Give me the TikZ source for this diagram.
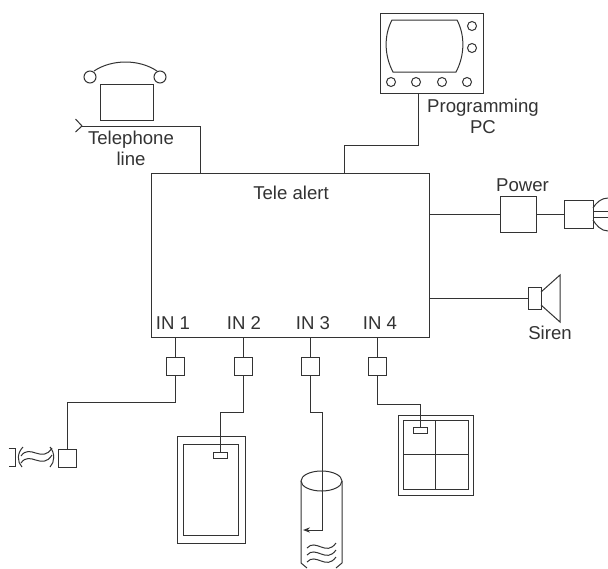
\documentclass[tikz,border=0pt]{standalone}
\usepackage{fontspec}
\setmainfont{Liberation Sans}
\usepackage{tikz}
\usetikzlibrary{arrows.meta, positioning, calc}

\begin{document}
\begin{tikzpicture}[x=1pt, y=-1pt,
  line width=1pt, draw=black!80,
  box/.style={rectangle, draw=black!80, fill=white, inner sep=0pt, outer sep=0pt},
  port/.style={box, minimum width=18pt, minimum height=18pt},
  lbl/.style={font=\fontsize{18.6pt}{21pt}\selectfont, text=black!80, align=center, inner sep=0pt},
  knob/.style={circle, draw=black!80, fill=white, inner sep=0pt, minimum size=9pt},
  wire/.style={draw=black!80},
]
\useasboundingbox (0,0) rectangle (608,568);
% main unit
\node[box, minimum width=278pt, minimum height=164pt] (tele) at (290,255) {};
\node[lbl] (telelbl) at (291,193) {Tele alert};
\node[lbl] (in1) at (173,323) {IN 1};
\node[lbl] (in2) at (244,323) {IN 2};
\node[lbl] (in3) at (313,323) {IN 3};
\node[lbl] (in4) at (380,323) {IN 4};
% telephone
\node[box, minimum width=53pt, minimum height=36pt] (phone) at (126.5,102) {};
\node[knob, minimum size=12pt] (earl) at (90,77) {};
\node[knob, minimum size=12pt] (earr) at (160,77) {};
\draw (94,71) .. controls (112,59) and (139,59) .. (157,71);
\coordinate (linein) at (82,126);
\coordinate (linedrop) at (200,173);
\draw (75.5,119) -- (linein) -- (75.5,132);
\draw[wire] (linein) -- (200,126) -- (linedrop);
\node[lbl] (phonelbl) at (131,148) {Telephone\\line};
% programming pc
\node[box, minimum width=103pt, minimum height=80pt] (pc) at (431.5,53) {};
\draw (392,20) .. controls (384,35) and (384,55) .. (393,72) -- (456,72)
  .. controls (465,55) and (465,35) .. (457,20) -- cycle;
\foreach \kx/\ky [count=\ki] in {472/26, 472/48, 391/82, 416/82, 442/82, 467/82}
  \node[knob] (pcknob\ki) at (\kx,\ky) {};
\node[lbl] (pclbl) at (483,116.5) {Programming\\PC};
\coordinate (pcdrop) at (344,173);
\draw[wire] (418,93) -- (418,145) -- (344,145) -- (pcdrop);
% power
\node[box, minimum width=36pt, minimum height=36pt] (power) at (518,214) {};
\node[lbl] (powerlbl) at (522.5,185) {Power};
\node[box, minimum width=29pt, minimum height=28pt] (plug) at (578.5,214) {};
\draw[wire] (tele.east |- power) -- (power);
\draw[wire] (power) -- (plug);
\draw (plug.east) ++(0,-6) .. controls (596,203) and (601,198) .. (608,198);
\draw (plug.east) ++(0,6) .. controls (596,225) and (601,231) .. (608,231);
\draw (593,211) -- (608,211);
\draw (593,217) -- (608,217);
% siren
\node[box, minimum width=13pt, minimum height=22pt] (siren) at (534.5,298) {};
\draw (541,292) -- (560,275) -- (560,322) -- (541,305);
\draw[wire] (tele.east |- siren) -- (siren);
\node[lbl] (sirenlbl) at (550,333) {Siren};
% input ports
\foreach \px/\pname in {175/a, 243/b, 310/c, 377/d} {
  \node[port] (port\pname) at (\px,366) {};
  \draw[wire] (\px,337) -- (port\pname);
}
% detector 1
\node[port] (sensa) at (67.5,458) {};
\draw[wire] (porta) -- (175,402) -- (67.5,402) -- (sensa);
\draw (8.5,448.5) -- (15.5,448.5) -- (15.5,466) -- (8.5,466);
\draw (23,447) .. controls (17,453) and (17,462) .. (22,467);
\draw (50,447) .. controls (55,453) and (55,462) .. (50,467);
\draw (21,456) .. controls (30,443) and (42,464) .. (52,448);
\draw (21,463) .. controls (30,450) and (42,471) .. (52,455);
% detector 2
\node[box, minimum width=68pt, minimum height=107pt] (doorout) at (211,489.5) {};
\node[box, minimum width=55pt, minimum height=91pt] (doorin) at (210.5,489.5) {};
\draw[wire] (portb) -- (243,412) -- (220,412) -- (220,452);
\node[box, minimum width=14pt, minimum height=6pt] (doorsw) at (220,455) {};
% tank
\draw (301,481) -- (301,563) -- (307,568);
\draw (342,481) -- (342,563) -- (336,568);
\draw (321.5,481) ellipse (20.5 and 10);
\coordinate (tankarrow) at (303,530);
\draw[wire, -{Stealth[length=7pt]}] (portc) -- (310,412) -- (322,412) -- (322,530) -- (tankarrow);
\foreach \wy in {547,554,561}
  \draw (307,\wy+1) .. controls (316,\wy-9) and (326,\wy+10) .. (336,\wy-4);
% detector 4
\node[box, minimum width=75pt, minimum height=80pt] (winout) at (435.5,455) {};
\node[box, minimum width=65pt, minimum height=69pt] (winin) at (435.5,454.5) {};
\draw (winin.north) -- (winin.south);
\draw (winin.west) -- (winin.east);
\draw[wire] (portd) -- (377,404) -- (420,404) -- (420,427);
\node[box, minimum width=14pt, minimum height=6pt] (winsw) at (420,430) {};
\end{tikzpicture}
\end{document}
